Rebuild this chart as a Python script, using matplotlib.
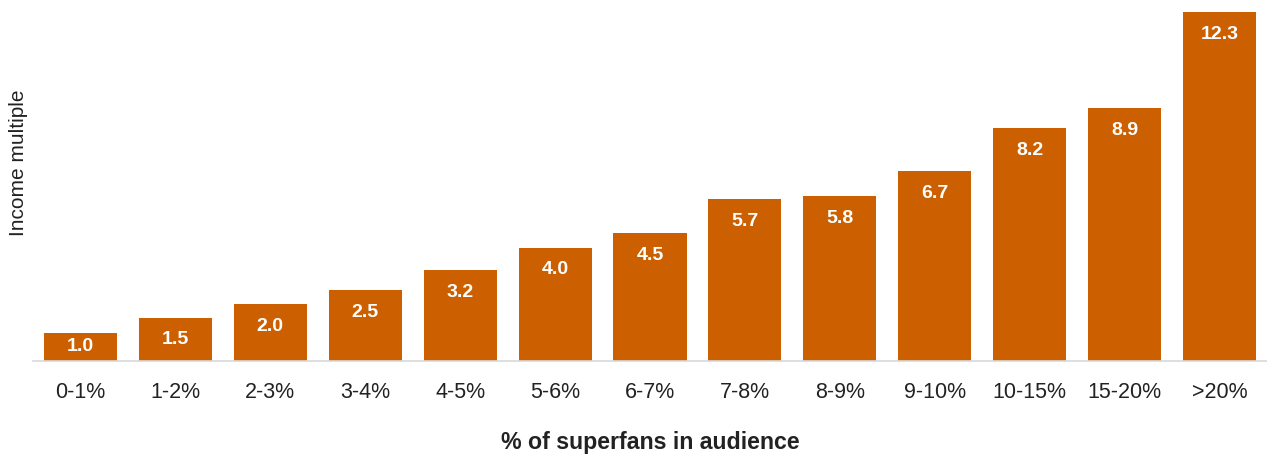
import matplotlib
matplotlib.use("Agg")
import matplotlib.pyplot as plt

# income multiple by share of superfans
buckets = ["0-1%", "1-2%", "2-3%", "3-4%", "4-5%", "5-6%", "6-7%",
           "7-8%", "8-9%", "9-10%", "10-15%", "15-20%", ">20%"]
multiple = [1.0, 1.5, 2.0, 2.5, 3.2, 4.0, 4.5, 5.7, 5.8, 6.7, 8.2, 8.9, 12.3]

plt.rcParams["font.family"] = ["Liberation Sans", "DejaVu Sans"]

fig = plt.figure(figsize=(12.67, 4.55), dpi=100)
ax = fig.add_axes([33 / 1267, 1 - 361 / 455, 1 - 33 / 1267, (361 - 12) / 455])

bars = ax.bar(range(len(buckets)), multiple, width=0.77, color="#CC5F00")
for b, v in zip(bars, multiple):
    # label sits near the top, or mid-bar when the bar is short
    ax.text(b.get_x() + b.get_width() / 2, max(v - 0.78, v / 2), f"{v:.1f}",
            ha="center", va="center", color="white",
            fontsize=14, fontweight="bold")

ax.set_xlim(-0.5, len(buckets) - 0.5)
ax.set_ylim(0, 12.3)
ax.set_xticks(range(len(buckets)))
ax.set_xticklabels(buckets, fontsize=15.5, color="#222222")
ax.tick_params(axis="x", length=0, pad=15)
ax.set_yticks([])
for s in ["top", "right", "left"]:
    ax.spines[s].set_visible(False)
ax.spines["bottom"].set_color("#d9d9d9")
ax.spines["bottom"].set_linewidth(1.2)

ax.set_xlabel("% of superfans in audience", fontsize=16.7, fontweight="bold",
              color="#222222", labelpad=20)
fig.text(19 / 1267, 1 - 163 / 455, "Income multiple", rotation=90,
         ha="center", va="center", fontsize=15, color="#222222")

fig.savefig("out.png", dpi=100)
